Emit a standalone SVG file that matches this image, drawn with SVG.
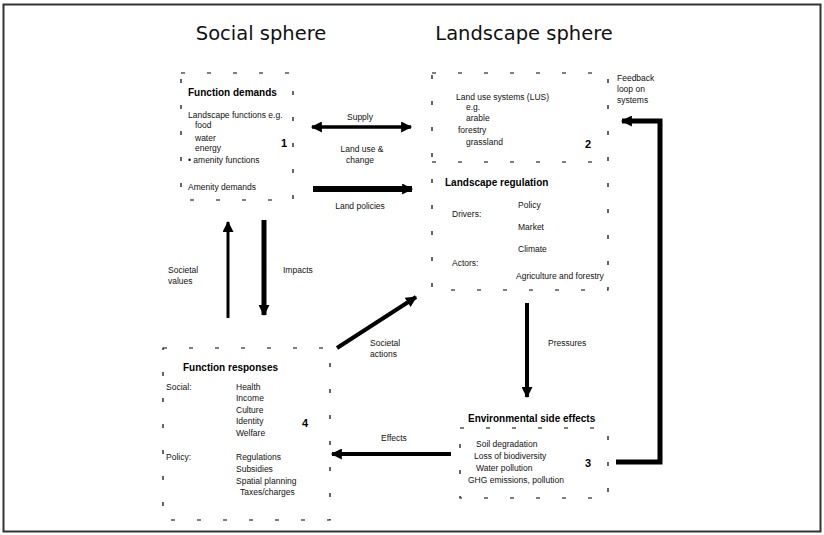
<svg xmlns="http://www.w3.org/2000/svg" width="824" height="535" viewBox="0 0 824 535">
<style>
.t{font-family:"Liberation Sans",Arial,sans-serif;font-size:8.5px;fill:#111}
.b{font-family:"Liberation Sans",Arial,sans-serif;font-size:10px;font-weight:bold;fill:#000}
.h{font-family:"DejaVu Sans",sans-serif;font-size:19.5px;fill:#111}
.n{font-family:"Liberation Sans",Arial,sans-serif;font-size:11px;font-weight:bold;fill:#000}
.box{fill:none;stroke:#000;stroke-width:1.2;stroke-dasharray:4 22}
.c{fill:none;stroke:#000}
</style>
<defs>
<marker id="ah" viewBox="0 0 10 10" refX="9" refY="5" markerUnits="userSpaceOnUse" markerWidth="13" markerHeight="11" orient="auto-start-reverse">
<path d="M0,0 L10,5 L0,10 z" fill="#000"/>
</marker>
</defs>
<rect x="3.5" y="4.5" width="817" height="527" fill="#fff" stroke="#333" stroke-width="2"/>
<text class="h" x="261" y="40" text-anchor="middle">Social sphere</text>
<text class="h" x="524" y="40" text-anchor="middle">Landscape sphere</text>

<g id="n1">
<rect class="box" x="181" y="73" width="112" height="127"/>
<text class="b" x="188" y="96">Function demands</text>
<text class="t" x="188" y="118">Landscape functions e.g.</text>
<text class="t" x="195" y="128">food</text>
<text class="t" x="195" y="141">water</text>
<text class="t" x="195" y="151">energy</text>
<text class="t" x="188" y="163">• amenity functions</text>
<text class="t" x="188" y="190">Amenity demands</text>
<text class="n" x="281" y="147">1</text>
</g>

<g id="n2">
<rect class="box" x="432" y="73" width="176" height="217"/>
<line class="box" x1="432" y1="162" x2="608" y2="162"/>
<text class="t" x="456" y="100">Land use systems (LUS)</text>
<text class="t" x="466" y="110">e.g.</text>
<text class="t" x="466" y="121">arable</text>
<text class="t" x="458" y="133">forestry</text>
<text class="t" x="466" y="145">grassland</text>
<text class="n" x="585" y="148">2</text>
<text class="b" x="445" y="186">Landscape regulation</text>
<text class="t" x="452" y="217">Drivers:</text>
<text class="t" x="518" y="208">Policy</text>
<text class="t" x="518" y="230">Market</text>
<text class="t" x="518" y="252">Climate</text>
<text class="t" x="452" y="266">Actors:</text>
<text class="t" x="516" y="279">Agriculture and forestry</text>
</g>

<g id="n3">
<rect class="box" x="460" y="428" width="148" height="70"/>
<text class="b" x="468" y="422">Environmental side effects</text>
<text class="t" x="476" y="447">Soil degradation</text>
<text class="t" x="474" y="459">Loss of biodiversity</text>
<text class="t" x="476" y="471">Water pollution</text>
<text class="t" x="468" y="483">GHG emissions, pollution</text>
<text class="n" x="585" y="467">3</text>
</g>

<g id="n4">
<rect class="box" x="163" y="348" width="167" height="172"/>
<text class="b" x="183" y="371">Function responses</text>
<text class="t" x="166" y="390">Social:</text>
<text class="t" x="236" y="390">Health</text>
<text class="t" x="236" y="401">Income</text>
<text class="t" x="236" y="413">Culture</text>
<text class="t" x="236" y="424">Identity</text>
<text class="t" x="236" y="436">Welfare</text>
<text class="t" x="166" y="460">Policy:</text>
<text class="t" x="236" y="460">Regulations</text>
<text class="t" x="236" y="472">Subsidies</text>
<text class="t" x="236" y="484">Spatial planning</text>
<text class="t" x="240" y="495">Taxes/charges</text>
<text class="n" x="302" y="427">4</text>
</g>

<g id="labels">
<text class="t" x="617" y="81">Feedback</text>
<text class="t" x="617" y="92">loop on</text>
<text class="t" x="617" y="103">systems</text>
<text class="t" x="360" y="120" text-anchor="middle">Supply</text>
<text class="t" x="362" y="152" text-anchor="middle">Land use &amp;</text>
<text class="t" x="360" y="163" text-anchor="middle">change</text>
<text class="t" x="360" y="209" text-anchor="middle">Land policies</text>
<text class="t" x="168" y="273">Societal</text>
<text class="t" x="168" y="284">values</text>
<text class="t" x="283" y="273">Impacts</text>
<text class="t" x="370" y="346">Societal</text>
<text class="t" x="370" y="357">actions</text>
<text class="t" x="548" y="346">Pressures</text>
<text class="t" x="381" y="441">Effects</text>
</g>

<g id="connectors">
<line class="c" x1="312" y1="127" x2="411" y2="127" stroke-width="3.5" marker-start="url(#ah)" marker-end="url(#ah)"/>
<line class="c" x1="313" y1="189" x2="412" y2="189" stroke-width="6" marker-end="url(#ah)"/>
<line class="c" x1="228" y1="318" x2="228" y2="222" stroke-width="3" marker-end="url(#ah)"/>
<line class="c" x1="264" y1="220" x2="264" y2="315" stroke-width="5" marker-end="url(#ah)"/>
<line class="c" x1="337" y1="348" x2="416" y2="297" stroke-width="4" marker-end="url(#ah)"/>
<line class="c" x1="527" y1="303" x2="527" y2="397" stroke-width="4" marker-end="url(#ah)"/>
<line class="c" x1="451" y1="454" x2="332" y2="454" stroke-width="4" marker-end="url(#ah)"/>
<path class="c" d="M616,462 H660 V121 H622" stroke-width="5" marker-end="url(#ah)"/>
</g>
</svg>
